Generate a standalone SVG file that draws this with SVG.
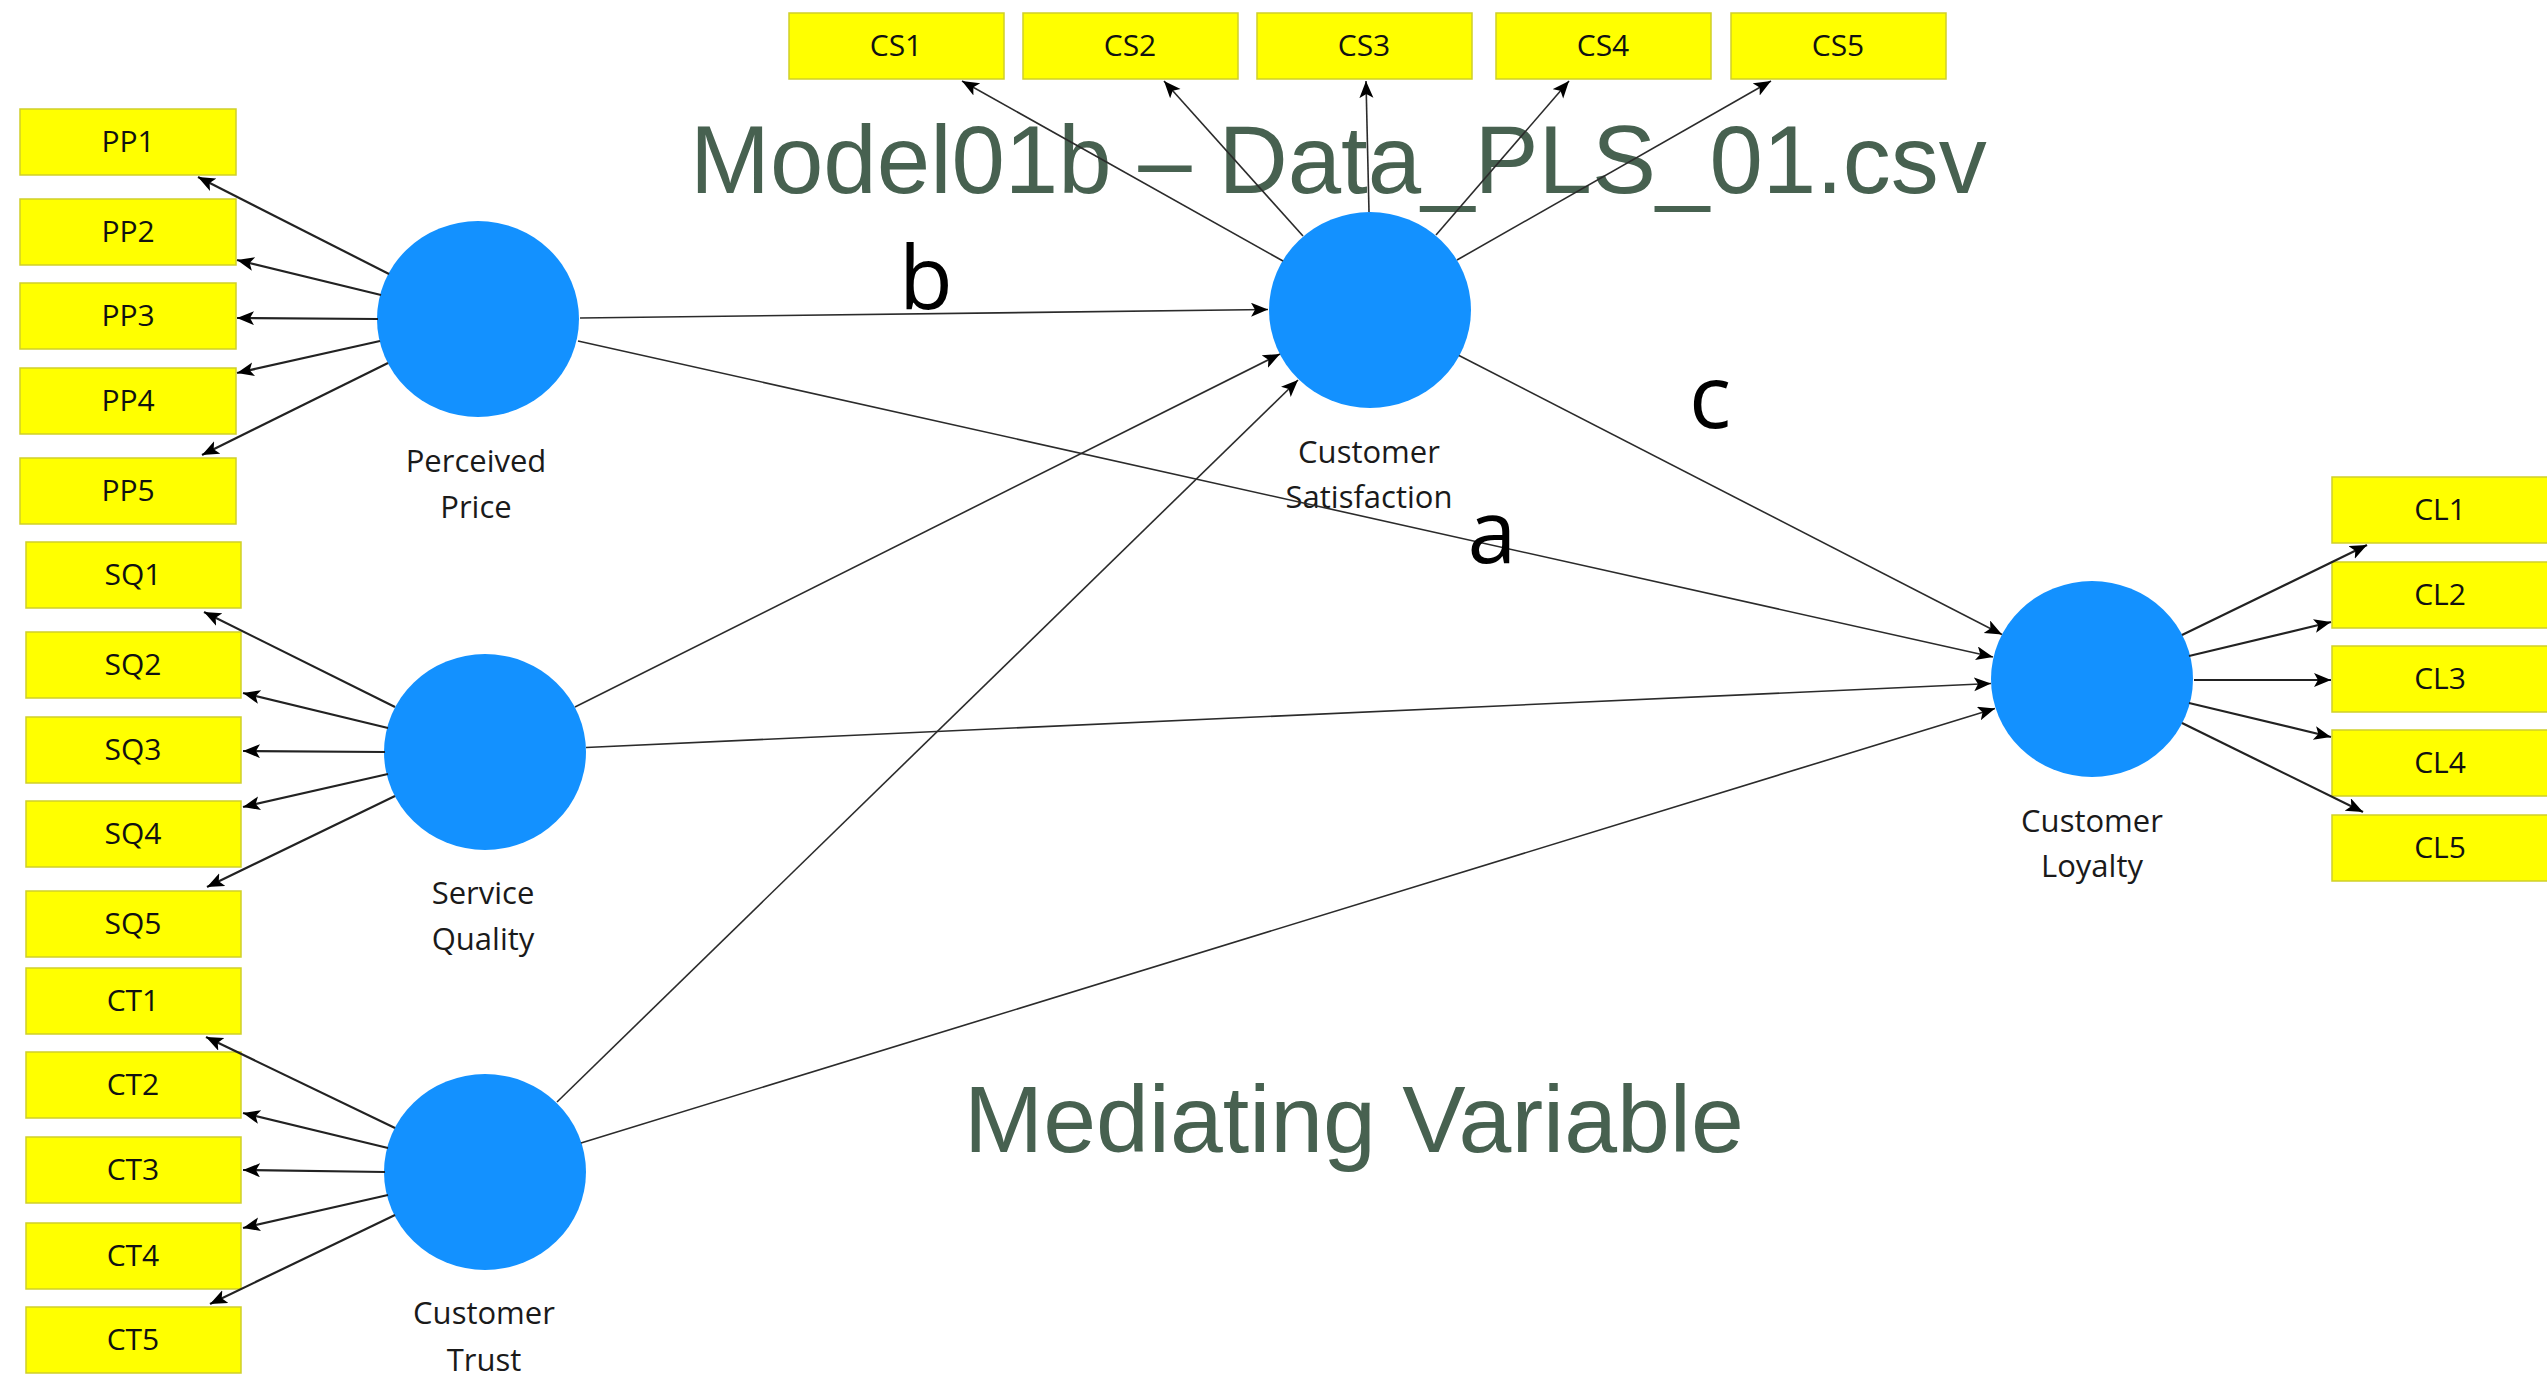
<svg xmlns="http://www.w3.org/2000/svg" width="2547" height="1383" viewBox="0 0 2547 1383">
<style>
.ind rect{fill:#FFFF00;stroke:#CFCF2A;stroke-width:1.5}
.ind text{font-family:"Open Sans","Noto Sans",sans-serif;font-size:30px;fill:#111;text-anchor:middle}
.lv ellipse{fill:#1391FF}
.lv text{font-family:"Open Sans","Noto Sans",sans-serif;font-size:31px;fill:#1a1a1a;text-anchor:middle}
.title{font-family:"Liberation Sans",Arial,sans-serif;fill:#476150}
.lab{font-family:"Open Sans","Noto Sans",sans-serif;font-size:88px;fill:#000;text-anchor:middle}
#connectors line{stroke:#2b2b2b;stroke-width:1.6;fill:none;marker-end:url(#arr)}
#connectors line.m{stroke-width:2.2;stroke:#222}
</style>
<defs>
<marker id="arr" markerUnits="userSpaceOnUse" markerWidth="20" markerHeight="16" refX="17" refY="7" orient="auto">
<path d="M0,0 L17,7 L0,14 L4,7 z" fill="#000"/>
</marker>
</defs>
<rect width="2547" height="1383" fill="#fff"/>
<text class="title" x="690" y="193" font-size="96">Model01b – Data_PLS_01.csv</text>
<text class="title" x="964" y="1152" font-size="95">Mediating Variable</text>
<g class="ind">
<g id="PP1"><rect x="20" y="109" width="216" height="66"/><text x="128" y="152">PP1</text></g>
<g id="PP2"><rect x="20" y="199" width="216" height="66"/><text x="128" y="242">PP2</text></g>
<g id="PP3"><rect x="20" y="283" width="216" height="66"/><text x="128" y="326">PP3</text></g>
<g id="PP4"><rect x="20" y="368" width="216" height="66"/><text x="128" y="411">PP4</text></g>
<g id="PP5"><rect x="20" y="458" width="216" height="66"/><text x="128" y="501">PP5</text></g>
<g id="SQ1"><rect x="26" y="542" width="215" height="66"/><text x="133" y="585">SQ1</text></g>
<g id="SQ2"><rect x="26" y="632" width="215" height="66"/><text x="133" y="675">SQ2</text></g>
<g id="SQ3"><rect x="26" y="717" width="215" height="66"/><text x="133" y="760">SQ3</text></g>
<g id="SQ4"><rect x="26" y="801" width="215" height="66"/><text x="133" y="844">SQ4</text></g>
<g id="SQ5"><rect x="26" y="891" width="215" height="66"/><text x="133" y="934">SQ5</text></g>
<g id="CT1"><rect x="26" y="968" width="215" height="66"/><text x="133" y="1011">CT1</text></g>
<g id="CT2"><rect x="26" y="1052" width="215" height="66"/><text x="133" y="1095">CT2</text></g>
<g id="CT3"><rect x="26" y="1137" width="215" height="66"/><text x="133" y="1180">CT3</text></g>
<g id="CT4"><rect x="26" y="1223" width="215" height="66"/><text x="133" y="1266">CT4</text></g>
<g id="CT5"><rect x="26" y="1307" width="215" height="66"/><text x="133" y="1350">CT5</text></g>
<g id="CS1"><rect x="789" y="13" width="215" height="66"/><text x="896" y="56">CS1</text></g>
<g id="CS2"><rect x="1023" y="13" width="215" height="66"/><text x="1130" y="56">CS2</text></g>
<g id="CS3"><rect x="1257" y="13" width="215" height="66"/><text x="1364" y="56">CS3</text></g>
<g id="CS4"><rect x="1496" y="13" width="215" height="66"/><text x="1603" y="56">CS4</text></g>
<g id="CS5"><rect x="1731" y="13" width="215" height="66"/><text x="1838" y="56">CS5</text></g>
<g id="CL1"><rect x="2332" y="477" width="216" height="66"/><text x="2440" y="520">CL1</text></g>
<g id="CL2"><rect x="2332" y="562" width="216" height="66"/><text x="2440" y="605">CL2</text></g>
<g id="CL3"><rect x="2332" y="646" width="216" height="66"/><text x="2440" y="689">CL3</text></g>
<g id="CL4"><rect x="2332" y="730" width="216" height="66"/><text x="2440" y="773">CL4</text></g>
<g id="CL5"><rect x="2332" y="815" width="216" height="66"/><text x="2440" y="858">CL5</text></g>
</g>
<g class="lv">
<g id="PerceivedPrice"><ellipse cx="478" cy="319" rx="101" ry="98"/><text x="476" y="472">Perceived</text><text x="476" y="518">Price</text></g>
<g id="ServiceQuality"><ellipse cx="485" cy="752" rx="101" ry="98"/><text x="483" y="904">Service</text><text x="483" y="950">Quality</text></g>
<g id="CustomerTrust"><ellipse cx="485" cy="1172" rx="101" ry="98"/><text x="484" y="1324">Customer</text><text x="484" y="1371">Trust</text></g>
<g id="CustomerSatisfaction"><ellipse cx="1370" cy="310" rx="101" ry="98"/><text x="1369" y="463">Customer</text><text x="1369" y="508">Satisfaction</text></g>
<g id="CustomerLoyalty"><ellipse cx="2092" cy="679" rx="101" ry="98"/><text x="2092" y="832">Customer</text><text x="2092" y="877">Loyalty</text></g>
</g>
<g id="connectors">
<line class="m" x1="389" y1="274" x2="198" y2="177"/>
<line class="m" x1="381" y1="295" x2="237" y2="260"/>
<line class="m" x1="378" y1="319" x2="237" y2="318"/>
<line class="m" x1="380" y1="341" x2="237" y2="373"/>
<line class="m" x1="388" y1="363" x2="202" y2="455"/>
<line class="m" x1="395" y1="707" x2="204" y2="612"/>
<line class="m" x1="388" y1="728" x2="243" y2="693"/>
<line class="m" x1="385" y1="752" x2="243" y2="751"/>
<line class="m" x1="388" y1="774" x2="243" y2="807"/>
<line class="m" x1="395" y1="796" x2="207" y2="887"/>
<line class="m" x1="395" y1="1128" x2="206" y2="1037"/>
<line class="m" x1="388" y1="1148" x2="243" y2="1113"/>
<line class="m" x1="385" y1="1172" x2="243" y2="1170"/>
<line class="m" x1="388" y1="1195" x2="243" y2="1228"/>
<line class="m" x1="395" y1="1215" x2="210" y2="1304"/>
<line x1="1283" y1="261" x2="962" y2="81"/>
<line x1="1303" y1="236" x2="1164" y2="81"/>
<line x1="1369" y1="212" x2="1366" y2="81"/>
<line x1="1436" y1="235" x2="1569" y2="81"/>
<line x1="1457" y1="260" x2="1771" y2="81"/>
<line class="m" x1="2182" y1="635" x2="2367" y2="545"/>
<line class="m" x1="2189" y1="656" x2="2331" y2="622"/>
<line class="m" x1="2194" y1="680" x2="2331" y2="680"/>
<line class="m" x1="2189" y1="703" x2="2331" y2="737"/>
<line class="m" x1="2182" y1="723" x2="2363" y2="812"/>
<line x1="580" y1="318" x2="1268" y2="309.5"/>
<line x1="578" y1="341" x2="1993" y2="657"/>
<line x1="575" y1="707" x2="1280" y2="354"/>
<line x1="586" y1="747.5" x2="1991" y2="683.5"/>
<line x1="557" y1="1102" x2="1298" y2="380"/>
<line x1="581" y1="1143" x2="1995" y2="708.5"/>
<line x1="1459" y1="355.5" x2="2002" y2="634.5"/>
</g>
<text class="lab" x="926" y="309">b</text>
<text class="lab" x="1710" y="428">c</text>
<text class="lab" x="1492" y="563">a</text>
</svg>
